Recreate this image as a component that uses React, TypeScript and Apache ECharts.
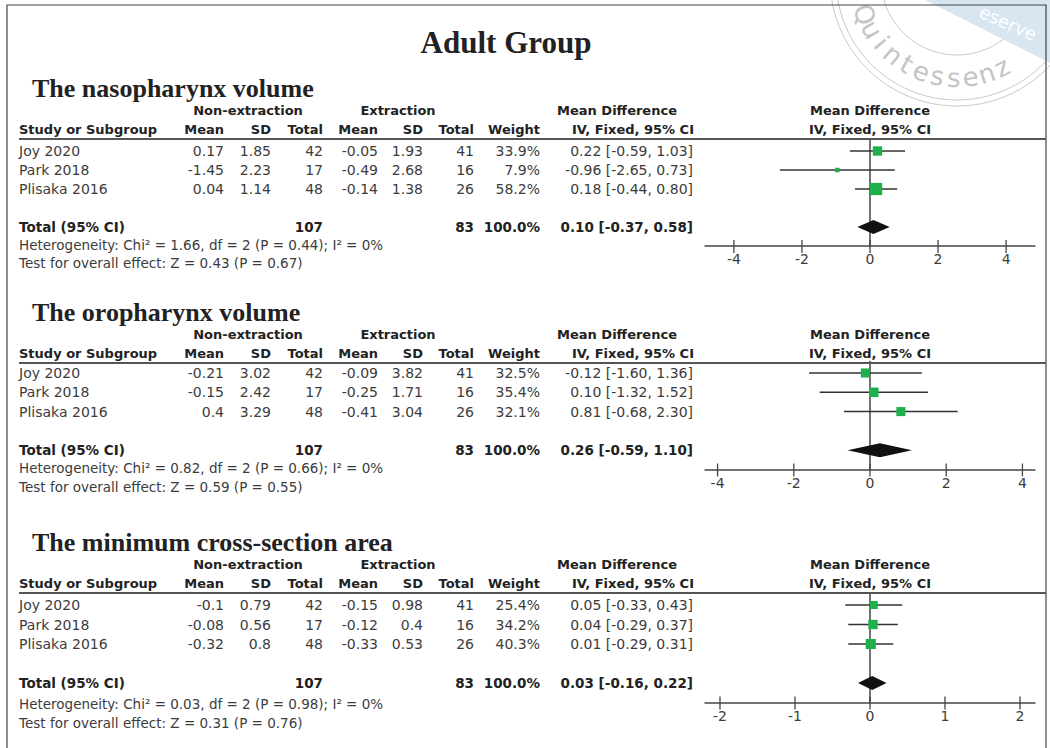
import React, { useEffect, useRef } from "react";
import * as echarts from "echarts";

// ---------- data ----------
const studies = ["Joy 2020", "Park 2018", "Plisaka 2016"];
const sectionTitles = ["The nasopharynx volume", "The oropharynx volume", "The minimum cross-section area"];

// [mean, sd, total]
const nasoNonExt = [[0.17, 1.85, 42], [-1.45, 2.23, 17], [0.04, 1.14, 48]];
const nasoExt = [[-0.05, 1.93, 41], [-0.49, 2.68, 16], [-0.14, 1.38, 26]];
const nasoWeight = [33.9, 7.9, 58.2];
// [md, lower, upper]
const nasoMD = [[0.22, -0.59, 1.03], [-0.96, -2.65, 0.73], [0.18, -0.44, 0.8]];
const nasoTotalMD = [0.1, -0.37, 0.58];

const oroNonExt = [[-0.21, 3.02, 42], [-0.15, 2.42, 17], [0.4, 3.29, 48]];
const oroExt = [[-0.09, 3.82, 41], [-0.25, 1.71, 16], [-0.41, 3.04, 26]];
const oroWeight = [32.5, 35.4, 32.1];
const oroMD = [[-0.12, -1.6, 1.36], [0.1, -1.32, 1.52], [0.81, -0.68, 2.3]];
const oroTotalMD = [0.26, -0.59, 1.1];

const mcaNonExt = [[-0.1, 0.79, 42], [-0.08, 0.56, 17], [-0.32, 0.8, 48]];
const mcaExt = [[-0.15, 0.98, 41], [-0.12, 0.4, 16], [-0.33, 0.53, 26]];
const mcaWeight = [25.4, 34.2, 40.3];
const mcaMD = [[0.05, -0.33, 0.43], [0.04, -0.29, 0.37], [0.01, -0.29, 0.31]];
const mcaTotalMD = [0.03, -0.16, 0.22];

const totalsNonExt = [107, 107, 107];
const totalsExt = [83, 83, 83];
const hetChi2 = [1.66, 0.82, 0.03];
const hetDf = [2, 2, 2];
const hetP = [0.44, 0.66, 0.98];
const hetI2 = [0, 0, 0];
const overallZ = [0.43, 0.59, 0.31];
const overallP = [0.67, 0.55, 0.76];

const axisExtent = [4.85, 4.33, 2.2];
const axisTicks = [[-4, -2, 0, 2, 4], [-4, -2, 0, 2, 4], [-2, -1, 0, 1, 2]];

// ---------- layout ----------
const SANS = '"DejaVu Sans", sans-serif';
const SERIF = '"Liberation Serif", "Times New Roman", serif';
const titleY = [88, 312, 542];
const row0Y = [151, 373, 605];
const rowGap = [19, 19.3, 19.5];
const footGap1 = [18, 18, 21];
const footGap2 = [36, 37, 40];
const COL = { name: 19, mean1: 224, sd1: 271, tot1: 323, mean2: 378, sd2: 423, tot2: 474, weight: 540, ci: 693 };
const FOREST_LEFT = 705;
const FOREST_WIDTH = 330;
const ZERO_X = 870;
const TXT = "#3c3c3c";
const BOLD = "#222";

const sections = [
  { non: nasoNonExt, ext: nasoExt, w: nasoWeight, md: nasoMD, tot: nasoTotalMD },
  { non: oroNonExt, ext: oroExt, w: oroWeight, md: oroMD, tot: oroTotalMD },
  { non: mcaNonExt, ext: mcaExt, w: mcaWeight, md: mcaMD, tot: mcaTotalMD },
];

const fmtCI = (v: number[]) => `${v[0].toFixed(2)} [${v[1].toFixed(2)}, ${v[2].toFixed(2)}]`;

function text(x: number, y: number, s: string, o: any = {}) {
  const align = o.align || "left";
  return {
    type: "text",
    x,
    y,
    silent: true,
    z: o.z ?? 10,
    rotation: o.rotation || 0,
    style: {
      text: s,
      fill: o.fill || TXT,
      fontSize: o.size || 14,
      fontFamily: o.family || SANS,
      fontWeight: o.bold ? "bold" : "normal",
      align,
      textAlign: align,
      verticalAlign: "middle",
      textVerticalAlign: "middle",
    },
  };
}

function buildGraphic() {
  const g: any[] = [];
  // watermark
  const cx = 957, cy = -21;
  [76, 121, 127].forEach((r) =>
    g.push({ type: "circle", silent: true, z: 0, shape: { cx, cy, r }, style: { fill: "rgba(0,0,0,0)", stroke: "#c9c9c9", lineWidth: 1 } })
  );
  const word = "Quintessenz";
  for (let i = 0; i < word.length; i++) {
    const deg = 159 - i * 9.6;
    const a = (deg * Math.PI) / 180;
    g.push(text(cx + 99 * Math.cos(a), cy + 99 * Math.sin(a), word[i], {
      align: "center", size: 26, fill: "#c4c4c4", rotation: ((90 - deg) * Math.PI) / 180, z: 1,
    }));
  }
  g.push({ type: "polygon", silent: true, z: 2, shape: { points: [[925, 0], [1050, 0], [1050, 63]] }, style: { fill: "#d8e6f2" } });
  g.push(text(1008, 23, "eserve", { align: "center", size: 18, fill: "#ffffff", rotation: -0.42, z: 3 }));

  // frame
  g.push({ type: "rect", silent: true, z: 5, shape: { x: 7, y: 5, width: 1039, height: 800 }, style: { fill: "rgba(0,0,0,0)", stroke: "#444", lineWidth: 1.2 } });

  // main title
  g.push(text(506, 42, "Adult Group", { align: "center", size: 31, bold: true, family: SERIF, fill: BOLD }));

  sections.forEach((sec, s) => {
    const ty = titleY[s];
    const gy = ty + 22, hy = ty + 41, ry = ty + 51;
    g.push(text(32, ty, sectionTitles[s], { size: 26, bold: true, family: SERIF, fill: BOLD }));
    const hb = { bold: true, size: 13, fill: BOLD };
    g.push(text(248, gy, "Non-extraction", { ...hb, align: "center" }));
    g.push(text(398, gy, "Extraction", { ...hb, align: "center" }));
    g.push(text(617, gy, "Mean Difference", { ...hb, align: "center" }));
    g.push(text(ZERO_X, gy, "Mean Difference", { ...hb, align: "center" }));
    g.push(text(COL.name, hy, "Study or Subgroup", hb));
    g.push(text(COL.mean1, hy, "Mean", { ...hb, align: "right" }));
    g.push(text(COL.sd1, hy, "SD", { ...hb, align: "right" }));
    g.push(text(COL.tot1, hy, "Total", { ...hb, align: "right" }));
    g.push(text(COL.mean2, hy, "Mean", { ...hb, align: "right" }));
    g.push(text(COL.sd2, hy, "SD", { ...hb, align: "right" }));
    g.push(text(COL.tot2, hy, "Total", { ...hb, align: "right" }));
    g.push(text(COL.weight, hy, "Weight", { ...hb, align: "right" }));
    g.push(text(COL.ci + 1, hy, "IV, Fixed, 95% CI", { ...hb, align: "right" }));
    g.push(text(ZERO_X, hy, "IV, Fixed, 95% CI", { ...hb, align: "center" }));
    g.push({ type: "line", silent: true, z: 6, shape: { x1: 19, y1: ry, x2: 1046, y2: ry }, style: { stroke: "#555", lineWidth: 2 } });

    studies.forEach((name, i) => {
      const y = row0Y[s] + i * rowGap[s];
      const r = { align: "right" };
      g.push(text(COL.name, y, name));
      g.push(text(COL.mean1, y, String(sec.non[i][0]), r));
      g.push(text(COL.sd1, y, String(sec.non[i][1]), r));
      g.push(text(COL.tot1, y, String(sec.non[i][2]), r));
      g.push(text(COL.mean2, y, String(sec.ext[i][0]), r));
      g.push(text(COL.sd2, y, String(sec.ext[i][1]), r));
      g.push(text(COL.tot2, y, String(sec.ext[i][2]), r));
      g.push(text(COL.weight, y, `${sec.w[i].toFixed(1)}%`, r));
      g.push(text(COL.ci, y, fmtCI(sec.md[i]), r));
    });

    const tY = row0Y[s] + 4 * rowGap[s];
    const tb = { bold: true, fill: BOLD, size: 13.5 };
    g.push(text(COL.name, tY, "Total (95% CI)", tb));
    g.push(text(COL.tot1, tY, String(totalsNonExt[s]), { ...tb, align: "right" }));
    g.push(text(COL.tot2, tY, String(totalsExt[s]), { ...tb, align: "right" }));
    g.push(text(COL.weight, tY, "100.0%", { ...tb, align: "right" }));
    g.push(text(COL.ci, tY, fmtCI(sec.tot), { ...tb, align: "right" }));
    g.push(text(COL.name, tY + footGap1[s],
      `Heterogeneity: Chi² = ${hetChi2[s].toFixed(2)}, df = ${hetDf[s]} (P = ${hetP[s].toFixed(2)}); I² = ${hetI2[s]}%`, { size: 13.5 }));
    g.push(text(COL.name, tY + footGap2[s],
      `Test for overall effect: Z = ${overallZ[s].toFixed(2)} (P = ${overallP[s].toFixed(2)})`, { size: 13.5 }));
  });
  return g;
}

function buildOption() {
  const grid: any[] = [], xAxis: any[] = [], yAxis: any[] = [], series: any[] = [];
  sections.forEach((sec, s) => {
    const gap = rowGap[s];
    grid.push({ left: FOREST_LEFT, width: FOREST_WIDTH, top: row0Y[s] - 0.6 * gap, height: 5.6 * gap });
    xAxis.push({
      type: "value", gridIndex: s, min: -axisExtent[s], max: axisExtent[s],
      axisLine: { show: true, onZero: false, lineStyle: { color: "#444", width: 1.5 } },
      axisTick: { show: false }, axisLabel: { show: false }, splitLine: { show: false },
    });
    yAxis.push({
      type: "value", gridIndex: s, inverse: true, min: -0.6, max: 5,
      axisLine: { show: true, onZero: true, lineStyle: { color: "#444", width: 1.5 } },
      axisTick: { show: false }, axisLabel: { show: false }, splitLine: { show: false },
    });
    const studyData = sec.md.map((m, i) => [m[0], m[1], m[2], i, sec.w[i]]);
    series.push({
      type: "custom", xAxisIndex: s, yAxisIndex: s, clip: false, z: 5,
      encode: { x: [0, 1, 2], y: 3 },
      data: studyData,
      renderItem: (_p: any, api: any) => {
        const row = api.value(3);
        const pl = api.coord([api.value(1), row]);
        const ph = api.coord([api.value(2), row]);
        const pc = api.coord([api.value(0), row]);
        const sz = 1.6 * Math.sqrt(api.value(4));
        return {
          type: "group",
          children: [
            { type: "line", shape: { x1: pl[0], y1: pl[1], x2: ph[0], y2: ph[1] }, style: { stroke: "#333", lineWidth: 1.5 } },
            { type: "rect", shape: { x: pc[0] - sz / 2, y: pc[1] - sz / 2, width: sz, height: sz }, style: { fill: "#1fb04c" } },
          ],
        };
      },
    });
    series.push({
      type: "custom", xAxisIndex: s, yAxisIndex: s, clip: false, z: 5,
      encode: { x: [0, 1, 2], y: 3 },
      data: [[sec.tot[0], sec.tot[1], sec.tot[2], 4]],
      renderItem: (_p: any, api: any) => {
        const row = api.value(3);
        const pl = api.coord([api.value(1), row]);
        const ph = api.coord([api.value(2), row]);
        const pc = api.coord([api.value(0), row]);
        const h = 7;
        return {
          type: "polygon",
          shape: { points: [[pl[0], pl[1]], [pc[0], pc[1] - h], [ph[0], ph[1]], [pc[0], pc[1] + h]] },
          style: { fill: "#111" },
        };
      },
    });
    series.push({
      type: "custom", xAxisIndex: s, yAxisIndex: s, clip: false, z: 6,
      encode: { x: 0, y: 1 },
      data: axisTicks[s].map((v) => [v, 5]),
      renderItem: (_p: any, api: any) => {
        const v = api.value(0);
        const p = api.coord([v, api.value(1)]);
        return {
          type: "group",
          children: [
            { type: "line", shape: { x1: p[0], y1: p[1] - 6, x2: p[0], y2: p[1] + 7 }, style: { stroke: "#444", lineWidth: 1.3 } },
            {
              type: "text", x: p[0], y: p[1] + 13,
              style: { text: String(v), fill: "#3c3c3c", fontSize: 14, fontFamily: SANS, align: "center", verticalAlign: "middle", textAlign: "center", textVerticalAlign: "middle" },
            },
          ],
        };
      },
    });
  });
  return {
    animation: false,
    backgroundColor: "#ffffff",
    grid, xAxis, yAxis, series,
    graphic: { elements: buildGraphic() },
  };
}

export default function App() {
  const ref = useRef<HTMLDivElement>(null);
  useEffect(() => {
    document.body.style.margin = "0";
    if (!ref.current) return;
    const chart = echarts.init(ref.current, undefined, { renderer: "svg" });
    chart.setOption(buildOption() as any);
    return () => chart.dispose();
  }, []);
  return <div ref={ref} style={{ width: 1050, height: 748 }} />;
}
